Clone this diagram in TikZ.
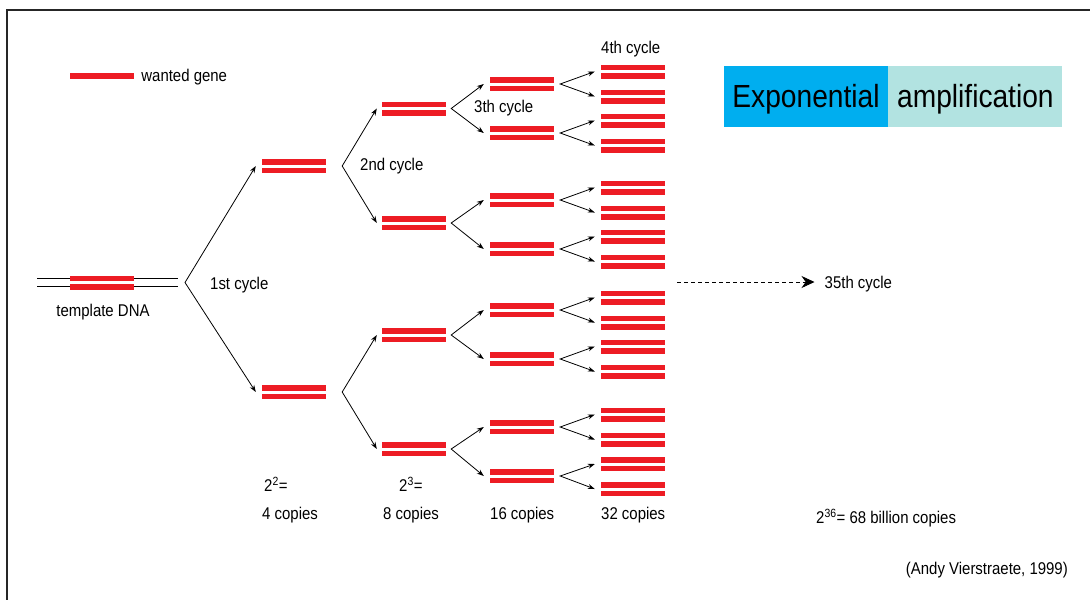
\documentclass[tikz,border=0pt]{standalone}
\usepackage{fontspec}
\setmainfont{Liberation Sans}[FakeStretch=0.88]
\usepackage{tikz}
\usetikzlibrary{arrows.meta,positioning}
\definecolor{genered}{HTML}{ED1C24}
\definecolor{titleblue}{HTML}{00AEEF}
\definecolor{titleteal}{HTML}{B2E3E1}
\tikzset{
  dsdna/.style={minimum width=64, minimum height=14, inner sep=0, path picture={
      \fill[genered] (path picture bounding box.north west) rectangle ([yshift=1.5]path picture bounding box.east);
      \fill[genered] (path picture bounding box.south west) rectangle ([yshift=-1.5]path picture bounding box.east);}},
  lbl/.style={anchor=west, inner sep=2, font=\fontsize{17}{20}\selectfont},
  splitarrow/.style={{Stealth[length=7,width=5]}-{Stealth[length=7,width=5]}, line width=0.8},
  titlebox/.style={minimum height=61, inner sep=0, text height=26, text depth=4, font=\fontsize{32}{36}\selectfont},
}

\begin{document}
\begin{tikzpicture}[x=1pt, y=-1pt]
    \useasboundingbox (0,0) rectangle (1090,600);
    \draw[line width=1.6, black!85] (1090,10) -- (7,10) -- (7,600);

    \node[fill=genered, minimum width=64, minimum height=6, inner sep=0] (key) at (102,75.7) {};
    \node[lbl, right=5pt of key, yshift=-1] (keytext) {wanted gene};

    \draw[line width=0.9] (37,278.3) -- (178,278.3) (37,286.7) -- (178,286.7);
    \node[dsdna] (tmpl) at (102,282.5) {};
    \node[lbl, anchor=center] (tmpltext) at (103,312) {template DNA};
    \coordinate (tsplit) at (185,282.5);

    \foreach \y [count=\i] in {166,392}
      \node[dsdna] (a\i) at (294,\y) {};
    \foreach \y [count=\i] in {108.5,223,335,449}
      \node[dsdna] (b\i) at (414,\y) {};
    \foreach \y [count=\i] in {84,133,200,249,310,359,427,476}
      \node[dsdna] (c\i) at (522,\y) {};
    \foreach \y [count=\i] in {71.5,96.5,120.5,145.5,187.5,212.5,236.5,261.5,297.5,322.5,346.5,371.5,414.5,439.5,464,489}
      \node[dsdna] (d\i) at (633,\y) {};

    \draw[splitarrow] ([xshift=-6]a1.west) -- (tsplit) -- ([xshift=-6]a2.west);
    \foreach \j in {1,2} {
      \pgfmathtruncatemacro{\up}{2*\j-1}
      \pgfmathtruncatemacro{\dn}{2*\j}
      \draw[splitarrow] ([xshift=-5]b\up.west) -- ([xshift=16]a\j.east) -- ([xshift=-5]b\dn.west);
    }
    \foreach \j in {1,...,4} {
      \pgfmathtruncatemacro{\up}{2*\j-1}
      \pgfmathtruncatemacro{\dn}{2*\j}
      \draw[splitarrow] ([xshift=-6]c\up.west) -- ([xshift=5]b\j.east) -- ([xshift=-6]c\dn.west);
    }
    \foreach \j in {1,...,8} {
      \pgfmathtruncatemacro{\up}{2*\j-1}
      \pgfmathtruncatemacro{\dn}{2*\j}
      \draw[splitarrow] ([xshift=-6]d\up.west) -- ([xshift=6]c\j.east) -- ([xshift=-6]d\dn.west);
    }

    \node[lbl] (cyc1) at (208,285) {1st cycle};
    \node[lbl] (cyc2) at (358,166) {2nd cycle};
    \node[lbl] (cyc3) at (472,108) {3th cycle};
    \node[lbl] (cyc4) at (599,49) {4th cycle};

    \coordinate (dstart) at (677,282);
    \node[lbl] (cyc35) at (822.5,284) {35th cycle};
    \draw[dash pattern=on 4pt off 3pt, -{Stealth[length=13,width=12]}, line width=0.8] (dstart) -- ([xshift=-8]cyc35.west |- dstart);

    \node[lbl] (pow2) at (262,484) {2\textsuperscript{2}=};
    \node[lbl] (pow3) at (397,484) {2\textsuperscript{3}=};
    \node[lbl] (n4) at (260,515) {4 copies};
    \node[lbl] (n8) at (381,515) {8 copies};
    \node[lbl] (n16) at (488,515) {16 copies};
    \node[lbl] (n32) at (599,515) {32 copies};
    \node[lbl] (n35) at (814,518) {2\textsuperscript{36}= 68 billion copies};
    \node[lbl, anchor=east] (credit) at (1070,570) {(Andy Vierstraete, 1999)};

    \node[titlebox, fill=titleblue, minimum width=164] (expo) at (806,96.5) {Exponential};
    \node[titlebox, fill=titleteal, minimum width=174, right=0pt of expo] (ampl) {amplification};
  \end{tikzpicture}
\end{document}
